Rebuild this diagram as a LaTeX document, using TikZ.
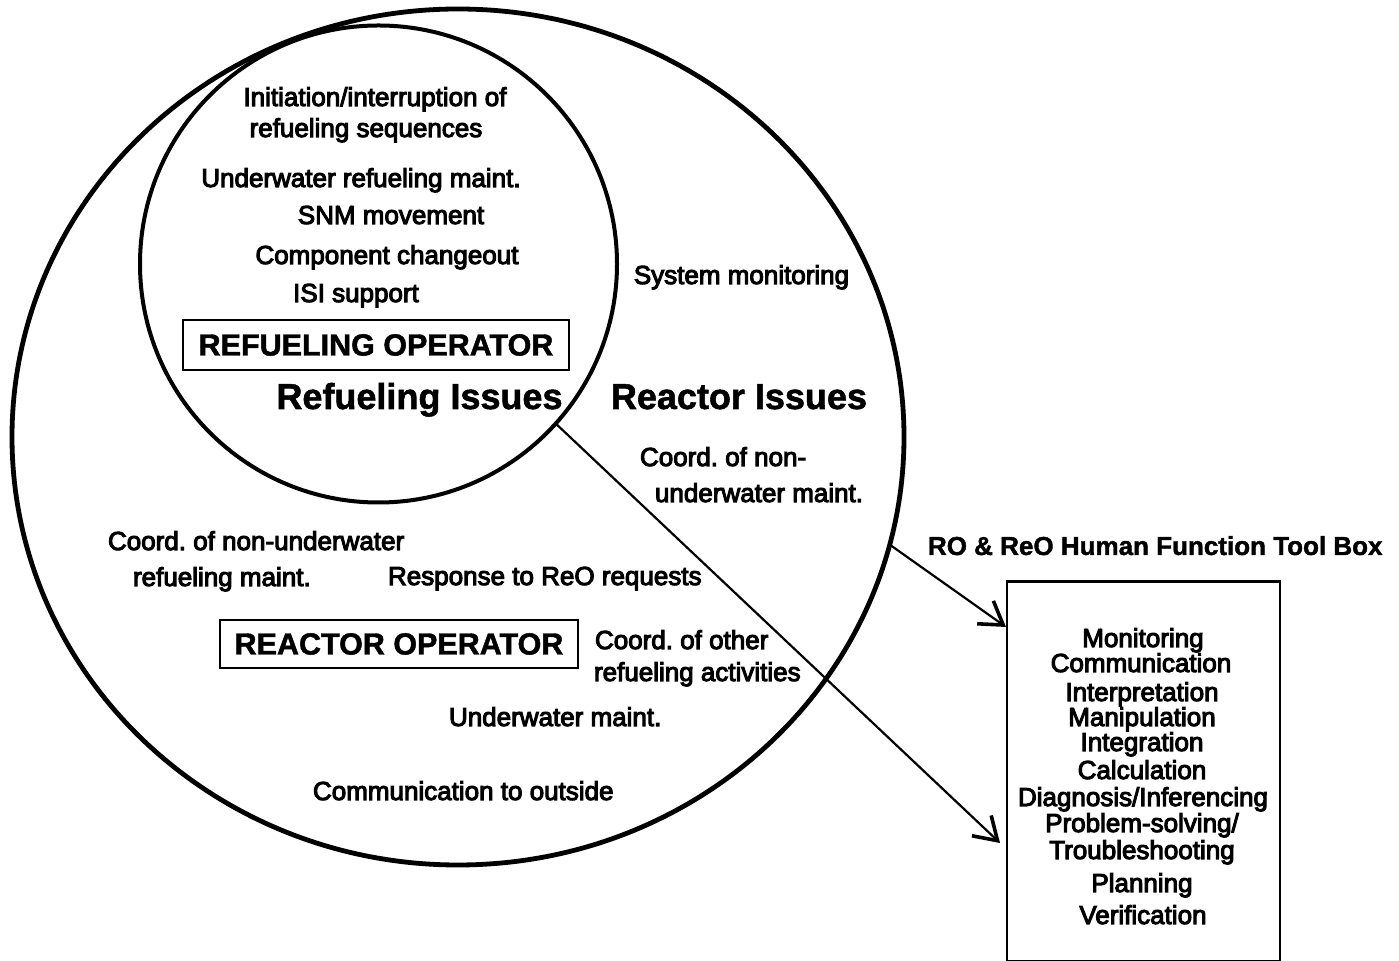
\documentclass[tikz,border=0pt]{standalone}
\usepackage{fontspec}
\setmainfont{Liberation Sans}[BoldFeatures={FakeBold=1.5}]
\newfontfamily\bodyface{Liberation Sans}[FakeBold=4]
\usetikzlibrary{arrows.meta, shapes.geometric}

\tikzset{
  every node/.style={inner sep=0pt, outer sep=0pt},
  txt/.style={font=\bodyface\fontsize{13}{15}\selectfont, anchor=base},
  txtl/.style={txt, anchor=base west},
  issue/.style={font=\bfseries\fontsize{18}{21}\selectfont, anchor=base},
  opbox/.style={draw, line width=1pt, font=\bfseries\fontsize{15.25}{18}\selectfont},
  outerline/.style={line width=2.4pt},
  innerline/.style={line width=2pt},
  link/.style={line width=1.1pt, -{Straight Barb[length=11pt, width=14pt, line width=1.8pt]}},
  toolhead/.style={font=\bfseries\fontsize{13}{15}\selectfont, anchor=base west},
}

\begin{document}
\frenchspacing
\begin{tikzpicture}[x=0.5pt, y=-0.5pt]
\useasboundingbox (0,0) rectangle (1399,961);

% reactor operator domain
\node[draw, ellipse, outerline, minimum width=446pt, minimum height=428pt] (reactor) at (458,437) {};

% refueling operator domain
\node[draw, circle, innerline, minimum size=238.5pt] (refuel) at (378.5,264) {};

% refueling tasks
\node[txt] (r1) at (375,106) {Initiation/interruption of};
\node[txt] (r2) at (366,137) {refueling sequences};
\node[txt] (r3) at (361,187) {Underwater refueling maint.};
\node[txt] (r4) at (391,224) {SNM movement};
\node[txt] (r5) at (387,264) {Component changeout};
\node[txt] (r6) at (356,302) {ISI support};
\node[opbox, minimum width=193pt, minimum height=25pt] (reo) at (376,345) {REFUELING OPERATOR};
\node[issue] (refiss) at (419.5,409) {Refueling Issues};

% reactor tasks
\node[issue] (reaciss) at (739,409) {Reactor Issues};
\node[txt] (s1) at (741.5,284) {System monitoring};
\node[txtl] (c1) at (640,466) {Coord. of non-};
\node[txtl] (c2) at (655,502) {underwater maint.};
\node[txtl] (c3) at (108,550) {Coord. of non-underwater};
\node[txtl] (c4) at (133,586) {refueling maint.};
\node[txtl] (c5) at (388,585) {Response to ReO requests};
\node[opbox, minimum width=179pt, minimum height=24pt] (ro) at (399,644) {REACTOR OPERATOR};
\node[txtl] (c6) at (595,649) {Coord. of other};
\node[txtl] (c7) at (594,681) {refueling activities};
\node[txtl] (c8) at (449,726) {Underwater maint.};
\node[txtl] (c9) at (313,800) {Communication to outside};

% tool box
\node[toolhead] (tbtitle) at (928,555) {RO \& ReO Human Function Tool Box};
\node[draw, line width=1.1pt, minimum width=136.5pt, minimum height=190pt] (toolbox) at (1143.5,771.5) {};
\node[txt] (t1) at (1143,647) {Monitoring};
\node[txt] (t2) at (1141,672) {Communication};
\node[txt] (t3) at (1142,701) {Interpretation};
\node[txt] (t4) at (1142,726) {Manipulation};
\node[txt] (t5) at (1142,751) {Integration};
\node[txt] (t6) at (1142,779) {Calculation};
\node[txt] (t7) at (1143,806) {Diagnosis/Inferencing};
\node[txt] (t8) at (1142,832) {Problem-solving/};
\node[txt] (t9) at (1142,859) {Troubleshooting};
\node[txt] (t10) at (1142,892) {Planning};
\node[txt] (t11) at (1143,924) {Verification};

% connectors into the tool box
\coordinate (tipA) at (1006,627);
\coordinate (tipB) at (1000,843);
\draw[link] (reactor.-14) -- (tipA);
\draw[link] (refuel.-42) -- (tipB);
\end{tikzpicture}
\end{document}
